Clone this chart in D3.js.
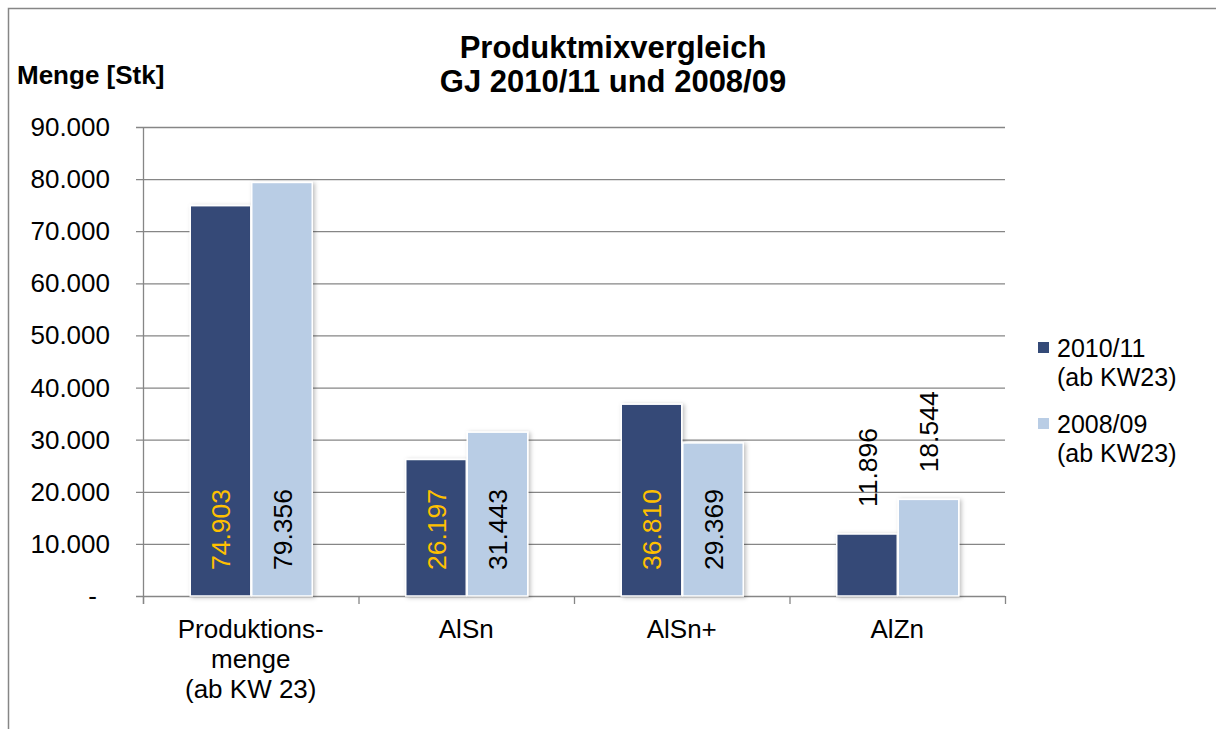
<!DOCTYPE html>
<html><head><meta charset="utf-8">
<script src="https://cdnjs.cloudflare.com/ajax/libs/d3/7.8.5/d3.min.js"></script>
<style>body{margin:0;background:#fff}svg{display:block;font-family:"Liberation Sans",Arial,sans-serif}</style>
</head><body><svg id="c" width="1216" height="729"></svg>
<script>
const categories = [["Produktions-","menge","(ab KW 23)"],["AlSn"],["AlSn+"],["AlZn"]];
const catKeys = ["Produktionsmenge","AlSn","AlSn+","AlZn"];
const seriesNames = [["2010/11","(ab KW23)"],["2008/09","(ab KW23)"]];
const series2010 = [74903, 26197, 36810, 11896];
const series2008 = [79356, 31443, 29369, 18544];
const yTicks = [0,10000,20000,30000,40000,50000,60000,70000,80000,90000];
const colors = ["#344a77","#b9cde5"];
const labelColors = ["#ffc000","#000000"];

const svg = d3.select("#c");
const defs = svg.append("defs");
const f = defs.append("filter").attr("id","sh").attr("x","-20%").attr("y","-20%").attr("width","150%").attr("height","150%");
f.append("feDropShadow").attr("dx",2).attr("dy",1).attr("stdDeviation",2).attr("flood-color","#000").attr("flood-opacity",0.25);

// outer border
svg.append("path").attr("d","M8.5,729 L8.5,8.5 L1216,8.5").attr("fill","none").attr("stroke","#868686").attr("stroke-width",1.5);

const x = d3.scaleBand().domain(catKeys).range([143,1005]);
const y = d3.scaleLinear().domain([0,90000]).range([596,127]);
const xs = d3.scaleBand().domain([0,1]).range([0,123]);

// gridlines
svg.append("g").selectAll("line").data(yTicks).join("line")
  .attr("x1",136).attr("x2",1005).attr("y1",d=>y(d)+0.5).attr("y2",d=>y(d)+0.5)
  .attr("stroke","#868686").attr("stroke-width",1.3);
// y axis line
svg.append("line").attr("x1",143.5).attr("x2",143.5).attr("y1",y(90000)).attr("y2",604).attr("stroke","#868686").attr("stroke-width",1.3);
// x ticks
const xb = catKeys.map(k=>x(k)).concat([1005]);
svg.append("g").selectAll("line").data(xb).join("line")
  .attr("x1",d=>d+0.5).attr("x2",d=>d+0.5).attr("y1",596).attr("y2",604).attr("stroke","#868686").attr("stroke-width",1.3);

// y labels
const fmt = d=> d===0 ? "-" : d3.format(",")(d).replace(/,/g,".");
svg.append("g").selectAll("text").data(yTicks).join("text")
  .attr("x",d=>d===0?97:110).attr("y",d=>y(d)+9).attr("text-anchor","end")
  .attr("font-size",26).attr("fill","#000").text(fmt);

// bars
const data = [series2010, series2008];
data.forEach((s,si)=>{
  const g = svg.append("g");
  g.selectAll("rect").data(s).join("rect")
    .attr("x",(d,i)=>x(catKeys[i])+x.bandwidth()/2-61.5+xs(si)+1)
    .attr("width",xs.bandwidth()-1)
    .attr("y",d=>y(d)).attr("height",d=>y(0)-y(d))
    .attr("fill",colors[si]).attr("stroke","#fff").attr("stroke-width",1.5)
    .attr("filter","url(#sh)");
  g.selectAll("text").data(s).join("text")
    .attr("transform",(d,i)=>{
      const cx = x(catKeys[i])+x.bandwidth()/2-61.5+xs(si)+xs.bandwidth()/2+10;
      const outside = i===3;
      const ty = outside ? y(d)-27 : y(0)-26;
      return `translate(${cx},${ty}) rotate(-90)`;
    })
    .attr("text-anchor","start").attr("font-size",26.5)
    .attr("fill",(d,i)=> i===3 ? "#000" : labelColors[si])
    .text(d=>fmt(d));
});

// x labels
categories.forEach((lines,i)=>{
  const t = svg.append("text").attr("text-anchor","middle").attr("font-size",26).attr("fill","#000");
  lines.forEach((l,j)=>t.append("tspan").attr("x",x(catKeys[i])+x.bandwidth()/2).attr("y",638+j*30).text(l));
});

// title
svg.append("text").attr("x",613).attr("y",58).attr("text-anchor","middle").attr("font-size",31).attr("font-weight","bold").text("Produktmixvergleich");
svg.append("text").attr("x",613).attr("y",92).attr("text-anchor","middle").attr("font-size",31).attr("font-weight","bold").text("GJ 2010/11 und 2008/09");
svg.append("text").attr("x",17).attr("y",84).attr("font-size",26).attr("font-weight","bold").text("Menge [Stk]");

// legend
seriesNames.forEach((n,i)=>{
  const ly = 342 + i*76;
  svg.append("rect").attr("x",1038).attr("y",ly).attr("width",11).attr("height",11).attr("fill",colors[i]);
  const t = svg.append("text").attr("font-size",25).attr("fill","#000");
  n.forEach((l,j)=>t.append("tspan").attr("x",1057).attr("y",ly+15+j*28.5).text(l));
});
</script></body></html>
